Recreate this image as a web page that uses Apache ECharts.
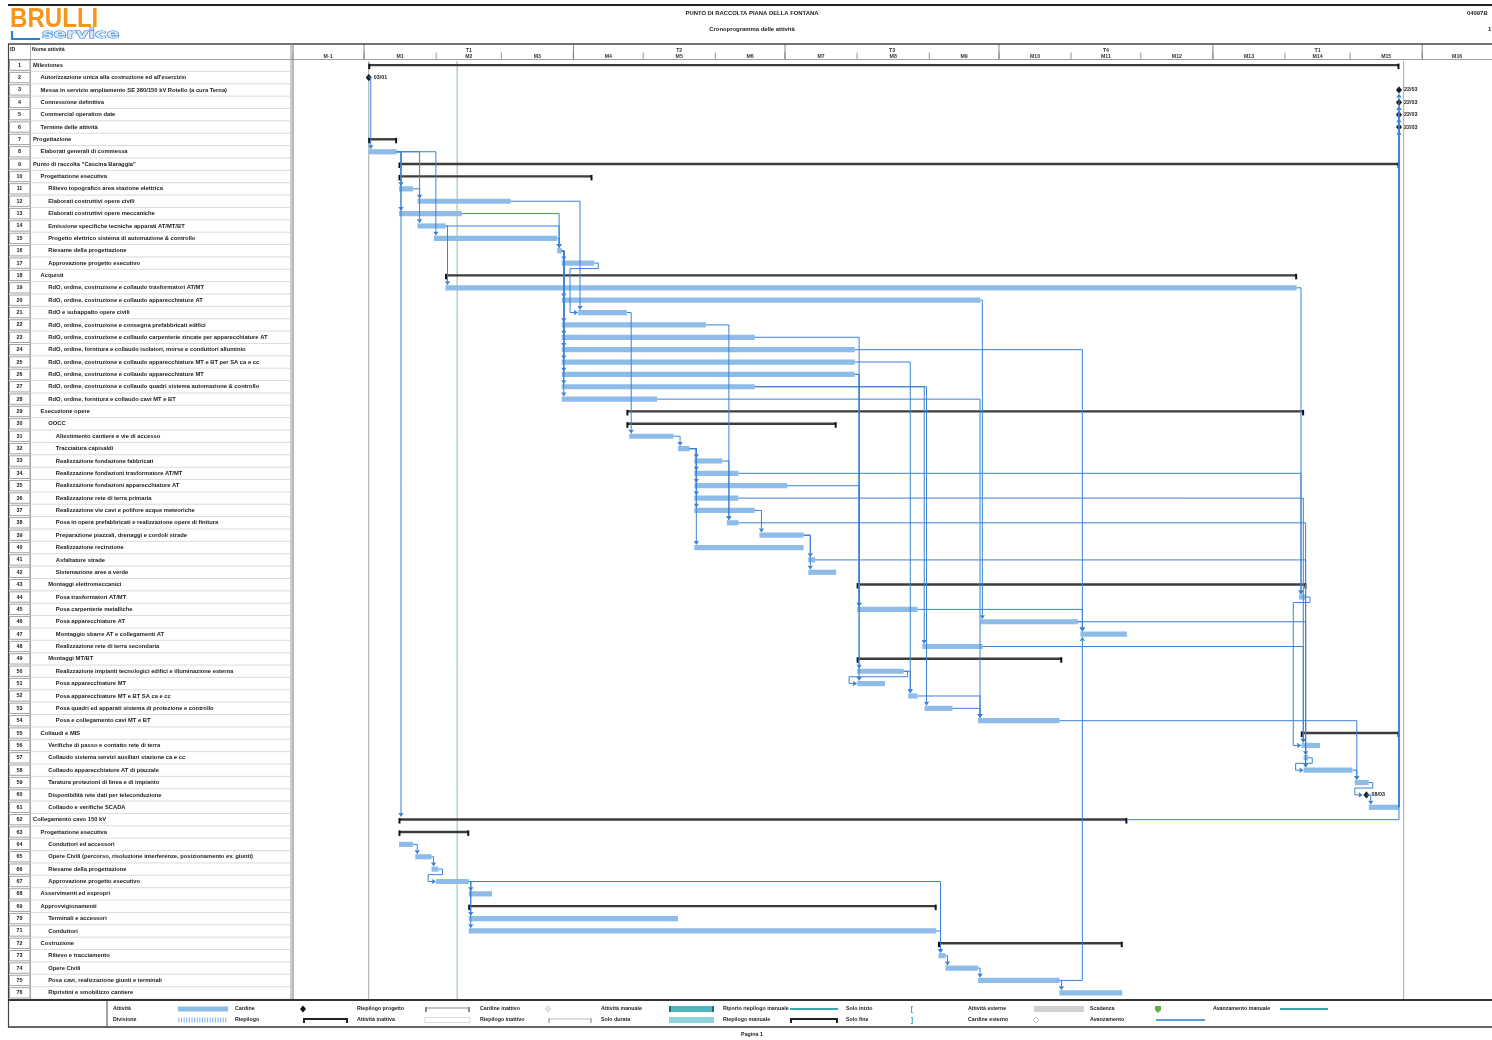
<!DOCTYPE html>
<html><head><meta charset="utf-8">
<script src="https://cdn.jsdelivr.net/npm/echarts/dist/echarts.min.js"></script>
<style>html,body{margin:0;padding:0;background:#fff}#c{width:1492px;height:1040px}</style>
</head><body><div id="c"></div>
<script>
// ---------------- DATA ----------------
const taskNames = [
"Milestones","Autorizzazione unica alla costruzione ed all'esercizio","Messa in servizio ampliamento SE 380/150 kV Rotello (a cura Terna)","Connessione definitiva","Commercial operation date","Termine delle attività",
"Progettazione","Elaborati generali di commessa",'Punto di raccolta "Cascina Baraggia"',"Progettazione esecutiva",
"Rilievo topografico area stazione elettrica","Elaborati costruttivi opere civili","Elaborati costruttivi opere meccaniche","Emissione specifiche tecniche apparati AT/MT/BT","Progetto elettrico sistema di automazione & controllo","Riesame della progettazione","Approvazione progetto esecutivo",
"Acquisti","RdO, ordine, costruzione e collaudo trasformatori AT/MT","RdO, ordine, costruzione e collaudo apparecchiature AT","RdO e subappalto opere civili","RdO, ordine, costruzione e consegna prefabbricati edifici","RdO, ordine, costruzione e collaudo carpenterie zincate per apparecchiature AT","RdO, ordine, fornitura e collaudo isolatori, morse e conduttori alluminio","RdO, ordine, costruzione e collaudo apparecchiature MT e BT per SA ca e cc","RdO, ordine, costruzione e collaudo apparecchiature MT","RdO, ordine, costruzione e collaudo quadri sistema automazione & controllo","RdO, ordine, fornitura e collaudo cavi MT e BT",
"Esecuzione opere","OOCC","Allestimento cantiere e vie di accesso","Tracciatura capisaldi","Realizzazione fondazione fabbricati","Realizzazione fondazioni trasformatore AT/MT","Realizzazione fondazioni apparecchiature AT","Realizzazione rete di terra primaria","Realizzazione vie cavi e polifore acque meteoriche","Posa in opera prefabbricati e realizzazione opere di finitura","Preparazione piazzali, drenaggi e cordoli strade","Realizzazione recinzione","Asfaltature strade","Sistemazione aree a verde",
"Montaggi elettromeccanici","Posa trasformatori AT/MT","Posa carpenterie metalliche","Posa apparecchiature AT","Montaggio sbarre AT e collegamenti AT","Realizzazione rete di terra secondaria",
"Montaggi MT/BT","Realizzazione impianti tecnologici edifici e illuminazione esterna","Posa apparecchiature MT","Posa apparecchiature MT e BT SA ca e cc","Posa quadri ed apparati sistema di protezione e controllo","Posa e collegamento cavi MT e BT",
"Collaudi e MIS","Verifiche di passo e contatto rete di terra","Collaudo sistema servizi ausiliari stazione ca e cc","Collaudo apparecchiature AT di piazzale","Taratura protezioni di linea e di impianto","Disponibilità rete dati per teleconduzione","Collaudo e verifiche SCADA",
"Collegamento cavo 150 kV","Progettazione esecutiva","Conduttori ed accessori","Opere Civili (percorso, risoluzione interferenze, posizionamento ev. giunti)","Riesame della progettazione","Approvazione progetto esecutivo","Asservimenti ed espropri","Approvvigionamenti","Terminali e accessori","Conduttori","Costruzione","Rilievo e tracciamento","Opere Civili","Posa cavi, realizzazione giunti e terminali","Ripristini e smobilizzo cantiere"
];
const taskLevels = [0,1,1,1,1,1, 0,1, 0,1, 2,2,2,2,2,2,2, 1,2,2,2,2,2,2,2,2,2,2, 1,2,3,3,3,3,3,3,3,3,3,3,3,3, 2,3,3,3,3,3, 2,3,3,3,3,3, 1,2,2,2,2,2,2, 0,1,2,2,2,2,1,1,2,2,1,2,2,2,2];
const taskTypes = ['S','M','M','M','M','M', 'S','T', 'S','S', 'T','T','T','T','T','T','T', 'S','T','T','T','T','T','T','T','T','T','T', 'S','S','T','T','T','T','T','T','T','T','T','T','T','T', 'S','T','T','T','T','T', 'S','T','T','T','T','T', 'S','T','T','T','T','M','T', 'S','S','T','T','T','T','T','S','T','T','S','T','T','T','T'];
// days from the first day of M1
const taskStart = [2,2,445,445,445,445, 2,2, 15,15, 15,23,15,23,30,83,85, 35,35,85,92,85,85,85,85,85,85,85, 113,113,114,135,142,142,142,142,142,156,170,142,191,191, 212,402,212,265,308,240, 212,212,212,234,241,264, 403,403,404,404,426,431,432, 15,15,15,22,29,31,45,45,45,45,247,247,250,264,299];
const taskEnd   = [445,2,445,445,445,445, 14,14, 445,98, 21,63,42,35,83,85,99, 401,401,265,113,147,168,211,211,211,168,126, 404,203,133,140,154,161,182,161,168,161,189,189,194,203, 405,405,238,307,328,266, 300,232,224,238,253,299, 445,411,406,425,432,431,445, 328,45,21,29,32,45,55,246,135,246,326,250,264,299,326];
const milestoneLabels = ['', '03/01', '22/03', '22/03', '22/03', '22/03'];
const milestoneLabelRow60 = '08/03';
const links = [[2,8],[8,11],[8,13],[8,62],[11,12],[8,14],[8,15],[12,21],[13,16],[14,16],[14,19],[15,16],
 [16,17],[16,20],[16,22],[16,23],[16,24],[16,25],[16,26],[16,27],[16,28],[17,21],
 [21,31],[31,32],[32,33],[32,34],[32,35],[32,36],[32,37],[32,40],[33,38],[22,38],[37,39],[39,41],[39,42],
 [19,44],[34,44],[23,45],[35,45],[20,46],[45,47],[24,47],[46,47],[75,47],[27,48],[27,53],
 [26,50],[26,51],[50,51],[50,52],[25,52],[52,54],[53,54],[28,54],
 [54,59],[36,56],[48,56],[44,56],[38,57],[41,58],[46,58],[57,58],[58,59],[59,60],[60,61],[61,3],[61,4],[61,5],[61,6],[62,4],
 [64,65],[65,66],[66,67],[67,68],[67,70],[67,71],[67,73],[71,73],[73,74],[74,75],[75,76]];
const monthLabels = ['M-1','M1','M2','M3','M4','M5','M6','M7','M8','M9','M10','M11','M12','M13','M14','M15','M16'];
const monthBounds = [-31,0,31,59,90,120,151,181,212,243,273,304,334,365,396,424,455,485];
const quarterLabels = ['T4','T1','T2','T3','T4','T1','T2'];
const quarterBounds = [-92,0,90,181,273,365,455,546];
const markerDays = [2, 40, 447];
const markerColors = ['#a8a8a8', '#8cc58c', '#a8a8a8'];

// ---------------- LAYOUT ----------------
const N = taskNames.length;
const ids = taskNames.map((_, i) => String(i + 1));
const FONT = '"Liberation Sans Narrow","Liberation Sans",Arial,sans-serif';
const f = (s, w) => (w || 'bold') + ' ' + s + 'px ' + FONT;
const BAR = '#8ebce9', LINK = '#3b82d6', SUM = '#3c3c3c';
const X_MIN = -31, X_MAX = 485;

function T(x, y, text, opt) {
  opt = opt || {};
  return {type: 'text', silent: true, z: 50, style: {x: x, y: y, text: text, font: opt.font || f(5.6), fill: opt.fill || '#222',
    align: opt.align || 'left', textAlign: opt.align || 'left', verticalAlign: 'middle', textVerticalAlign: 'middle'}};
}
function L(x1, y1, x2, y2, color, lw) {
  return {type: 'line', silent: true, z: 40, shape: {x1: x1, y1: y1, x2: x2, y2: y2}, style: {stroke: color, lineWidth: lw || 1}};
}
function R(x, y, w, h, fill, stroke) {
  return {type: 'rect', silent: true, z: 40, shape: {x: x, y: y, width: w, height: h}, style: {fill: fill, stroke: stroke || null, lineWidth: 0.8}};
}
function bracket(x1, x2, y, color, lw) {
  return [L(x1, y, x2, y, color, lw), R(x1, y - 1, 2, 5, color), R(x2 - 2, y - 1, 2, 5, color)];
}

const g = [];
// frame & header
g.push(L(8, 5, 1492, 5, '#222', 2));
g.push(L(8, 44, 1492, 44, '#444', 1.5));
g.push(L(8, 59.5, 1492, 59.5, '#888', 0.8));
g.push(L(8.5, 44, 8.5, 1027, '#444', 1.2));
g.push(L(30.5, 44, 30.5, 999, '#999', 0.8));
g.push(L(291, 44, 291, 999, '#999', 1));
g.push(L(293, 44, 293, 999, '#777', 1));
g.push(T(10, 49.5, 'ID', {font: f(5.2)}));
g.push(T(32, 49.5, 'Nome attività', {font: f(5.2)}));
// logo
g.push({type: 'text', silent: true, z: 50, x: 10, y: 19, scaleX: 0.86, style: {x: 0, y: 0, text: 'BRULLI', font: 'bold 28px "Liberation Sans",Arial,sans-serif', fill: '#f7941d', verticalAlign: 'middle', textVerticalAlign: 'middle'}});
g.push({type: 'polyline', silent: true, z: 50, shape: {points: [[12, 31], [12, 39], [40, 39]]}, style: {stroke: '#2f7fd1', lineWidth: 2.2, fill: null}});
g.push({type: 'text', silent: true, z: 50, x: 42, y: 35, scaleX: 1.6, style: {x: 0, y: 0, text: 'service', font: 'bold 12px "DejaVu Sans",sans-serif', fill: '#d7e8f8', stroke: '#2f7fd1', lineWidth: 0.9, verticalAlign: 'middle', textVerticalAlign: 'middle'}});
// titles
g.push(T(752, 13, 'PUNTO DI RACCOLTA PIANA DELLA FONTANA', {align: 'center', font: f(5.9)}));
g.push(T(752, 29, 'Cronoprogramma delle attività', {align: 'center', font: f(5.9)}));
g.push(T(1467, 13, '04097B', {font: f(5.9)}));
g.push(T(1488, 29, '1', {font: f(5.9)}));
// legend
g.push(L(8, 1000, 1492, 1000, '#333', 2));
g.push(L(8, 1027, 1492, 1027, '#333', 1.5));
g.push(L(107, 1000, 107, 1027, '#444', 1));
const y1 = 1009, y2 = 1020;
[['Attività', 113, y1], ['Cardine', 235, y1], ['Riepilogo progetto', 357, y1], ['Cardine inattivo', 480, y1], ['Attività manuale', 601, y1], ['Riporto riepilogo manuale', 723, y1], ['Solo inizio', 846, y1], ['Attività esterne', 968, y1], ['Scadenza', 1090, y1], ['Avanzamento manuale', 1213, y1],
 ['Divisione', 113, y2], ['Riepilogo', 235, y2], ['Attività inattiva', 357, y2], ['Riepilogo inattivo', 480, y2], ['Solo durata', 601, y2], ['Riepilogo manuale', 723, y2], ['Solo fine', 846, y2], ['Cardine esterno', 968, y2], ['Avanzamento', 1090, y2]
].forEach(a => g.push(T(a[1], a[2], a[0], {font: f(5.3)})));
g.push(R(178, y1 - 2.5, 50, 5, BAR));
g.push({type: 'polygon', silent: true, z: 40, shape: {points: [[303, y1 - 3.5], [306, y1], [303, y1 + 3.5], [300, y1]]}, style: {fill: '#111'}});
g.push(...bracket(425, 470, y1 - 1, '#888', 1.2));
g.push({type: 'polygon', silent: true, z: 40, shape: {points: [[548, y1 - 3.5], [551, y1], [548, y1 + 3.5], [545, y1]]}, style: {fill: '#e4e4e4', stroke: '#c8c8c8', lineWidth: 0.6}});
g.push(R(669, y1 - 3, 45, 6, '#4eb4bd', null), R(669, y1 - 3, 2, 6, '#1e6f78'), R(712, y1 - 3, 2, 6, '#1e6f78'));
g.push(L(790, y1, 838, y1, '#3aa6ad', 2.2));
g.push(T(912, y1, '[', {font: 'bold 7px sans-serif', fill: '#2aa0a8', align: 'center'}));
g.push(R(1034, y1 - 3, 50, 6, '#d0d0d0'));
g.push({type: 'polygon', silent: true, z: 40, shape: {points: [[1155, y1 - 3], [1161, y1 - 3], [1161, y1 + 1], [1158, y1 + 4], [1155, y1 + 1]]}, style: {fill: '#62b046'}});
g.push(L(1280, y1, 1328, y1, '#3aa6ad', 2));
for (let x = 179; x < 228; x += 2.6) g.push(L(x, y2 - 2.5, x, y2 + 2.5, '#5b9be0', 0.8));
g.push(...bracket(303, 348, y2 - 1, '#222', 1.8));
g.push(R(425, y2 - 2.5, 45, 5, '#fff', '#cfcfcf'));
g.push(...bracket(548, 592, y2 - 1, '#bbb', 1));
g.push(R(669, y2 - 3, 45, 6, '#8fd3d8'));
g.push(...bracket(790, 838, y2 - 1, '#222', 1.8));
g.push(T(912, y2, ']', {font: 'bold 7px sans-serif', fill: '#2aa0a8', align: 'center'}));
g.push({type: 'polygon', silent: true, z: 40, shape: {points: [[1036, y2 - 3], [1039, y2], [1036, y2 + 3], [1033, y2]]}, style: {fill: '#fff', stroke: '#aaa', lineWidth: 0.7}});
g.push(L(1156, y2, 1205, y2, '#5b9be0', 2));
g.push(T(752, 1035, 'Pagina 1', {align: 'center', font: f(5.3)}));

// ---------------- SERIES RENDERERS ----------------
function renderTable(params, api) {
  const i = api.value(1);
  const c = api.coord([0, i]);
  const h = api.size([0, 1])[1];
  const yTop = c[1] - h / 2;
  const x0 = params.coordSys.x;
  return {type: 'group', children: [
    {type: 'rect', shape: {x: x0 + 1.5, y: yTop + 1, width: 20.5, height: h - 2}, style: {fill: '#fff', stroke: '#8c8c8c', lineWidth: 0.8}},
    {type: 'line', shape: {x1: x0 + 23, y1: yTop + h, x2: x0 + 282, y2: yTop + h}, style: {stroke: '#d2d2d2', lineWidth: 0.8}},
    {type: 'text', style: {x: x0 + 11.5, y: c[1], text: ids[i], font: f(5.4), fill: '#1a1a1a', align: 'center', textAlign: 'center', verticalAlign: 'middle', textVerticalAlign: 'middle'}},
    {type: 'text', style: {x: x0 + 25 + taskLevels[i] * 7.6, y: c[1], text: taskNames[i], font: f(5.8), fill: '#1a1a1a', align: 'left', textAlign: 'left', verticalAlign: 'middle', textVerticalAlign: 'middle'}}
  ]};
}
function diamond(x, y, r, fill) {
  return {type: 'polygon', shape: {points: [[x, y - r], [x + r * 0.85, y], [x, y + r], [x - r * 0.85, y]]}, style: {fill: fill}};
}
function renderTask(params, api) {
  const i = api.value(0);
  const type = taskTypes[i];
  const y = api.coord([0, i])[1];
  const xs = api.coord([taskStart[i], i])[0];
  const xe = api.coord([taskEnd[i], i])[0];
  if (type === 'T') {
    return {type: 'rect', shape: {x: xs, y: y - 2.6, width: Math.max(xe - xs, 2.5), height: 5.2}, style: {fill: BAR}};
  }
  if (type === 'S') {
    return {type: 'group', children: [
      {type: 'rect', shape: {x: xs, y: y - 1.3, width: xe - xs, height: 2.4}, style: {fill: SUM}},
      {type: 'rect', shape: {x: xs - 0.5, y: y - 1.6, width: 2, height: 5.5}, style: {fill: '#111'}},
      {type: 'rect', shape: {x: xe - 1.5, y: y - 1.6, width: 2, height: 5.5}, style: {fill: '#111'}}
    ]};
  }
  const label = i === 59 ? milestoneLabelRow60 : (milestoneLabels[i] || '');
  return {type: 'group', children: [
    diamond(xs, y, 3.6, '#1f1f1f'),
    {type: 'text', style: {x: xs + 5, y: y, text: label, font: f(5.4), fill: '#222', verticalAlign: 'middle', textVerticalAlign: 'middle'}}
  ]};
}
function renderLink(params, api) {
  const p = api.value(0), s = api.value(1);
  const yp = api.coord([0, p])[1], ys = api.coord([0, s])[1];
  const xe = api.coord([taskEnd[p], p])[0];
  const xsRaw = api.coord([taskStart[s], s])[0];
  const isM = taskTypes[s] === 'M';
  const ax = isM ? xsRaw : xsRaw + 2;
  const half = isM ? 3.6 : 2.6;
  let pts, arrow;
  if (ax >= xe + (isM ? -0.5 : 1)) {
    const down = ys > yp;
    const tipY = down ? ys - half : ys + half;
    const baseY = down ? tipY - 4 : tipY + 4;
    pts = [[xe, yp], [ax, yp], [ax, baseY]];
    arrow = [[ax - 2.6, baseY], [ax + 2.6, baseY], [ax, tipY]];
  } else {
    const dir = ys > yp ? 1 : -1;
    const midY = yp + dir * 5.5;
    const tipX = xsRaw - (isM ? 3.6 : 0);
    pts = [[xe, yp], [xe + 4, yp], [xe + 4, midY], [tipX - 8, midY], [tipX - 8, ys], [tipX - 4, ys]];
    arrow = [[tipX - 4, ys - 2.6], [tipX - 4, ys + 2.6], [tipX, ys]];
  }
  return {type: 'group', children: [
    {type: 'polyline', shape: {points: pts}, style: {stroke: LINK, lineWidth: 1, fill: null}},
    {type: 'polygon', shape: {points: arrow}, style: {fill: LINK}}
  ]};
}
function renderMarker(params, api) {
  const i = params.dataIndex;
  const x = api.coord([api.value(0), 0])[0];
  const cs = params.coordSys;
  return {type: 'line', shape: {x1: x, y1: cs.y + 2, x2: x, y2: cs.y + cs.height}, style: {stroke: markerColors[i], lineWidth: 1}};
}
function renderMonth(params, api) {
  const i = params.dataIndex;
  const a = api.coord([monthBounds[i], 0])[0], b = api.coord([monthBounds[i + 1], 0])[0];
  const cs = params.coordSys;
  return {type: 'group', children: [
    {type: 'line', shape: {x1: a, y1: cs.y + 8.5, x2: a, y2: cs.y + cs.height}, style: {stroke: '#777', lineWidth: 0.8}},
    {type: 'text', style: {x: (a + b) / 2, y: cs.y + 12.5, text: monthLabels[i], font: f(5.2), fill: '#333', align: 'center', textAlign: 'center', verticalAlign: 'middle', textVerticalAlign: 'middle'}}
  ]};
}
function renderQuarter(params, api) {
  const i = params.dataIndex;
  const a = api.coord([quarterBounds[i], 0])[0], b = api.coord([quarterBounds[i + 1], 0])[0];
  const cs = params.coordSys;
  return {type: 'group', children: [
    {type: 'line', shape: {x1: a, y1: cs.y, x2: a, y2: cs.y + cs.height}, style: {stroke: '#777', lineWidth: 0.9}},
    {type: 'text', style: {x: (a + b) / 2, y: cs.y + 6.5, text: quarterLabels[i], font: f(5.2), fill: '#333', align: 'center', textAlign: 'center', verticalAlign: 'middle', textVerticalAlign: 'middle'}}
  ]};
}

// ---------------- CHART ----------------
const chart = echarts.init(document.getElementById('c'), null, {renderer: 'canvas'});
const hiddenVal = (gi, min, max) => ({type: 'value', gridIndex: gi, min: min, max: max, show: false, splitLine: {show: false}});
const hiddenCat = gi => ({type: 'category', gridIndex: gi, data: ids, inverse: true, show: false});
chart.setOption({
  animation: false,
  backgroundColor: '#fff',
  grid: [
    {left: 292, top: 59, width: 1200, height: 940},
    {left: 8, top: 59, width: 284, height: 940},
    {left: 292, top: 44, width: 1200, height: 15}
  ],
  xAxis: [hiddenVal(0, X_MIN, X_MAX), hiddenVal(1, 0, 284), hiddenVal(2, X_MIN, X_MAX)],
  yAxis: [hiddenCat(0), hiddenCat(1), hiddenVal(2, 0, 1)],
  graphic: {elements: g},
  series: [
    {type: 'custom', name: 'markers', xAxisIndex: 0, yAxisIndex: 0, z: 1, silent: true,
     data: markerDays.map(d => [d, 0]), renderItem: renderMarker},
    {type: 'custom', name: 'table', xAxisIndex: 1, yAxisIndex: 1, z: 2, silent: true,
     data: ids.map((_, i) => [0, i]), encode: {x: 0, y: 1}, renderItem: renderTable},
    {type: 'custom', name: 'tasks', xAxisIndex: 0, yAxisIndex: 0, z: 3, silent: true,
     data: ids.map((_, i) => [i, taskStart[i], taskEnd[i]]), encode: {x: [1, 2], y: 0}, renderItem: renderTask},
    {type: 'custom', name: 'links', xAxisIndex: 0, yAxisIndex: 0, z: 4, silent: true,
     data: links.map(l => [l[0] - 1, l[1] - 1]), encode: {x: -1, y: -1}, renderItem: renderLink},
    {type: 'custom', name: 'months', xAxisIndex: 2, yAxisIndex: 2, z: 5, silent: true, clip: true,
     data: monthLabels.map((_, i) => [monthBounds[i], 0.5]), renderItem: renderMonth},
    {type: 'custom', name: 'quarters', xAxisIndex: 2, yAxisIndex: 2, z: 5, silent: true, clip: true,
     data: quarterLabels.map((_, i) => [quarterBounds[i], 0.5]), renderItem: renderQuarter}
  ]
});
</script></body></html>
